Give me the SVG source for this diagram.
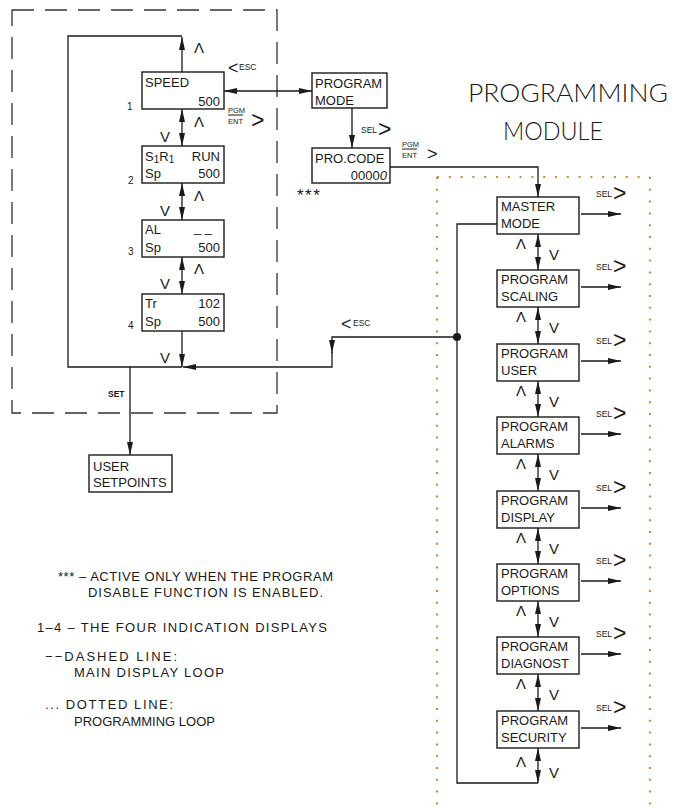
<svg xmlns="http://www.w3.org/2000/svg" width="673" height="809" viewBox="0 0 673 809">
<defs>
<marker id="ah" markerUnits="userSpaceOnUse" markerWidth="13" markerHeight="6" refX="13" refY="3" orient="auto-start-reverse" viewBox="0 0 13 6"><path d="M0,0 L13,3 L0,6 z" fill="#1a1a1a"/></marker>
</defs>
<style>
.box{fill:#fff;stroke:#1a1a1a;stroke-width:1.4}
.ln{fill:none;stroke:#1a1a1a;stroke-width:1.3}
.ar{fill:none;stroke:#1a1a1a;stroke-width:1.3;marker-end:url(#ah)}
.ar2{fill:none;stroke:#1a1a1a;stroke-width:1.3;marker-start:url(#ah);marker-end:url(#ah)}
.t{font-family:"Liberation Sans",Arial,sans-serif;font-size:13px;fill:#1a1a1a}
.e{text-anchor:end}
.s{font-family:"Liberation Sans",Arial,sans-serif;font-size:8.5px;fill:#1a1a1a}
.pg{font-family:"Liberation Sans",Arial,sans-serif;font-size:7.5px;fill:#1a1a1a}
.ast{font-family:"Liberation Sans",Arial,sans-serif;font-size:17px;letter-spacing:1.5px;fill:#1a1a1a}
.ch{font-family:"Liberation Sans",Arial,sans-serif;font-size:15px;fill:#1a1a1a;text-anchor:middle}
.gt{font-family:"Liberation Sans",Arial,sans-serif;font-size:18px;fill:#1a1a1a}
.gb{font-family:"Liberation Sans",Arial,sans-serif;font-size:23px;fill:#1a1a1a}
.num{font-family:"Liberation Sans",Arial,sans-serif;font-size:10px;fill:#1a1a1a}
.lg{font-family:"Liberation Sans",Arial,sans-serif;font-size:13px;fill:#1a1a1a}
.ttl{font-family:Lato,"Noto Sans",sans-serif;font-weight:300;font-size:25px;fill:#1a1a1a}
.dot{fill:none;stroke:#d9862e;stroke-width:2.2;stroke-dasharray:2 9.8}
</style>
<rect width="673" height="809" fill="#fff"/>

<!-- frames -->
<g id="main-loop-frame">
<path d="M12,10 H277 V413 H12 Z" fill="none" stroke="#333" stroke-width="1.3" stroke-dasharray="22 11"/>
</g>
<g id="programming-frame">
<line class="dot" x1="437" y1="177" x2="650" y2="177"/>
<line class="dot" x1="437" y1="177" x2="437" y2="809"/>
<line class="dot" x1="650" y1="177" x2="650" y2="809"/>
</g>

<text class="ttl" x="468" y="102" textLength="200" lengthAdjust="spacingAndGlyphs">PROGRAMMING</text>
<text class="ttl" x="503" y="140" textLength="100" lengthAdjust="spacingAndGlyphs">MODULE</text>

<!-- connectors -->
<g id="connectors">
<path class="ln" d="M182,367 H68 V36 H182"/>
<line class="ar" x1="182" y1="72" x2="182" y2="37"/>
<line class="ar2" x1="182" y1="109" x2="182" y2="146"/>
<line class="ar2" x1="182" y1="183" x2="182" y2="220"/>
<line class="ar2" x1="182" y1="257" x2="182" y2="294"/>
<line class="ar" x1="182" y1="331" x2="182" y2="367"/>
<line class="ar2" x1="224" y1="91" x2="312" y2="91"/>
<line class="ar" x1="352" y1="108" x2="352" y2="148"/>
<path class="ar" d="M390,167 H538 V197"/>
<path class="ar" d="M457,337 H332 V353"/>
<path class="ar" d="M332,352 V367 H183"/>
<line class="ar" x1="130" y1="367" x2="130" y2="455"/>
<path class="ln" d="M497,224 H457 V783 H538"/>
<circle cx="457" cy="337" r="4" fill="#1a1a1a"/>
<line class="ar2" x1="538" y1="234" x2="538" y2="270"/>
<line class="ar2" x1="538" y1="307" x2="538" y2="344"/>
<line class="ar2" x1="538" y1="381" x2="538" y2="417"/>
<line class="ar2" x1="538" y1="454" x2="538" y2="491"/>
<line class="ar2" x1="538" y1="528" x2="538" y2="564"/>
<line class="ar2" x1="538" y1="601" x2="538" y2="637"/>
<line class="ar2" x1="538" y1="674" x2="538" y2="711"/>
<line class="ar2" x1="538" y1="748" x2="538" y2="783"/>
<line class="ar" x1="581" y1="214" x2="621" y2="214"/>
<line class="ar" x1="581" y1="287" x2="621" y2="287"/>
<line class="ar" x1="581" y1="361" x2="621" y2="361"/>
<line class="ar" x1="581" y1="434" x2="621" y2="434"/>
<line class="ar" x1="581" y1="508" x2="621" y2="508"/>
<line class="ar" x1="581" y1="581" x2="621" y2="581"/>
<line class="ar" x1="581" y1="654" x2="621" y2="654"/>
<line class="ar" x1="581" y1="728" x2="621" y2="728"/>
</g>

<!-- connector labels -->
<g id="labels">
<text class="ch" x="199" y="53">Λ</text>
<text class="ch" x="199" y="127">Λ</text><text class="ch" x="165" y="142">V</text>
<text class="ch" x="199" y="201">Λ</text><text class="ch" x="165" y="216">V</text>
<text class="ch" x="199" y="274">Λ</text><text class="ch" x="165" y="289">V</text>
<text class="ch" x="165" y="363">V</text>
<text class="gt" x="228" y="74">&lt;</text><text class="s" x="239" y="70">ESC</text>
<text class="pg" x="228" y="113">PGM</text><line x1="228" y1="115" x2="243" y2="115" stroke="#1a1a1a" stroke-width="1"/><text class="pg" x="228" y="124">ENT</text>
<text class="gb" x="251" y="128">&gt;</text>
<text class="s" x="361" y="133">SEL</text><text class="gb" x="378" y="137">&gt;</text>
<text class="pg" x="402" y="147">PGM</text><line x1="402" y1="149" x2="417" y2="149" stroke="#1a1a1a" stroke-width="1"/><text class="pg" x="402" y="158">ENT</text>
<text class="gt" x="427" y="160">&gt;</text>
<text class="ast" x="297" y="201">***</text>
<text class="gt" x="341" y="330">&lt;</text><text class="s" x="353" y="326">ESC</text>
<text class="s" x="108" y="397" font-weight="bold">SET</text>
<text class="num" x="127" y="110">1</text>
<text class="num" x="128" y="184">2</text>
<text class="num" x="128" y="255">3</text>
<text class="num" x="128" y="329">4</text>
<g id="sel-labels">
<text class="s" x="596" y="197">SEL</text><text class="gb" x="613" y="201">&gt;</text>
<text class="s" x="596" y="270">SEL</text><text class="gb" x="613" y="274">&gt;</text>
<text class="s" x="596" y="344">SEL</text><text class="gb" x="613" y="348">&gt;</text>
<text class="s" x="596" y="417">SEL</text><text class="gb" x="613" y="421">&gt;</text>
<text class="s" x="596" y="491">SEL</text><text class="gb" x="613" y="495">&gt;</text>
<text class="s" x="596" y="564">SEL</text><text class="gb" x="613" y="568">&gt;</text>
<text class="s" x="596" y="637">SEL</text><text class="gb" x="613" y="641">&gt;</text>
<text class="s" x="596" y="711">SEL</text><text class="gb" x="613" y="715">&gt;</text>
</g>
<g id="right-chevrons">
<text class="ch" x="521" y="249">Λ</text><text class="ch" x="554" y="260">V</text>
<text class="ch" x="521" y="322">Λ</text><text class="ch" x="554" y="333">V</text>
<text class="ch" x="521" y="396">Λ</text><text class="ch" x="554" y="407">V</text>
<text class="ch" x="521" y="469">Λ</text><text class="ch" x="554" y="480">V</text>
<text class="ch" x="521" y="543">Λ</text><text class="ch" x="554" y="554">V</text>
<text class="ch" x="521" y="616">Λ</text><text class="ch" x="554" y="627">V</text>
<text class="ch" x="521" y="689">Λ</text><text class="ch" x="554" y="700">V</text>
<text class="ch" x="521" y="767">Λ</text><text class="ch" x="554" y="778">V</text>
</g>
</g>

<!-- left display nodes -->
<g id="speed"><rect class="box" x="142" y="72" width="82" height="37"/><text class="t" x="145" y="87">SPEED</text><text class="t e" x="220" y="106">500</text></g>
<g id="s1r1"><rect class="box" x="142" y="146" width="82" height="37"/><text class="t" x="145" y="161">S<tspan style="font-size:10px" dy="2">1</tspan><tspan dy="-2">R</tspan><tspan style="font-size:10px" dy="2">1</tspan></text><text class="t e" x="220" y="161">RUN</text><text class="t" x="145" y="178">Sp</text><text class="t e" x="220" y="178">500</text></g>
<g id="al"><rect class="box" x="142" y="220" width="82" height="37"/><text class="t" x="145" y="234">AL</text><text class="t e" x="212" y="232">_ _</text><text class="t" x="145" y="252">Sp</text><text class="t e" x="220" y="252">500</text></g>
<g id="tr"><rect class="box" x="142" y="294" width="82" height="37"/><text class="t" x="145" y="308">Tr</text><text class="t e" x="220" y="308">102</text><text class="t" x="145" y="326">Sp</text><text class="t e" x="220" y="326">500</text></g>
<g id="user-setpoints"><rect class="box" x="89" y="455" width="83" height="37"/><text class="t" x="93" y="471">USER</text><text class="t" x="93" y="487">SETPOINTS</text></g>
<g id="program-mode"><rect class="box" x="312" y="73" width="75" height="35"/><text class="t" x="315" y="88">PROGRAM</text><text class="t" x="315" y="105">MODE</text></g>
<g id="pro-code"><rect class="box" x="312" y="148" width="78" height="35"/><text class="t" x="315" y="163">PRO.CODE</text><text class="t e" x="387" y="180">0000<tspan style="font-style:italic">0</tspan></text></g>

<!-- programming module nodes -->
<g id="master-mode"><rect class="box" x="497" y="197" width="82" height="37"/><text class="t" x="501" y="211">MASTER</text><text class="t" x="501" y="228">MODE</text></g>
<g id="program-scaling"><rect class="box" x="497" y="270" width="82" height="37"/><text class="t" x="501" y="284">PROGRAM</text><text class="t" x="501" y="301">SCALING</text></g>
<g id="program-user"><rect class="box" x="497" y="344" width="82" height="37"/><text class="t" x="501" y="358">PROGRAM</text><text class="t" x="501" y="375">USER</text></g>
<g id="program-alarms"><rect class="box" x="497" y="417" width="82" height="37"/><text class="t" x="501" y="431">PROGRAM</text><text class="t" x="501" y="448">ALARMS</text></g>
<g id="program-display"><rect class="box" x="497" y="491" width="82" height="37"/><text class="t" x="501" y="505">PROGRAM</text><text class="t" x="501" y="522">DISPLAY</text></g>
<g id="program-options"><rect class="box" x="497" y="564" width="82" height="37"/><text class="t" x="501" y="578">PROGRAM</text><text class="t" x="501" y="595">OPTIONS</text></g>
<g id="program-diagnost"><rect class="box" x="497" y="637" width="82" height="37"/><text class="t" x="501" y="651">PROGRAM</text><text class="t" x="501" y="668">DIAGNOST</text></g>
<g id="program-security"><rect class="box" x="497" y="711" width="82" height="37"/><text class="t" x="501" y="725">PROGRAM</text><text class="t" x="501" y="742">SECURITY</text></g>

<!-- legend -->
<g id="legend">
<text class="lg" x="58" y="581" textLength="275" lengthAdjust="spacing">*** – ACTIVE ONLY WHEN THE PROGRAM</text>
<text class="lg" x="88" y="597" textLength="235" lengthAdjust="spacing">DISABLE FUNCTION IS ENABLED.</text>
<text class="lg" x="37" y="632" textLength="290" lengthAdjust="spacing">1–4 – THE FOUR INDICATION DISPLAYS</text>
<text class="lg" x="45" y="661" textLength="132" lengthAdjust="spacing">−−DASHED LINE:</text>
<text class="lg" x="74" y="677" textLength="150" lengthAdjust="spacing">MAIN DISPLAY LOOP</text>
<text class="lg" x="45" y="709" textLength="128" lengthAdjust="spacing">... DOTTED LINE:</text>
<text class="lg" x="74" y="726" textLength="141" lengthAdjust="spacing">PROGRAMMING LOOP</text>
</g>
</svg>
